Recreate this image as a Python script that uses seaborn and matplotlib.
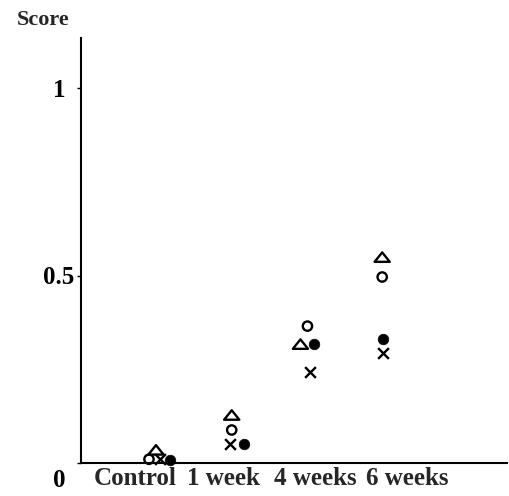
import numpy as np
import pandas as pd
import seaborn as sns
import matplotlib
matplotlib.use("Agg")
import matplotlib.pyplot as plt
import matplotlib.transforms as mtransforms
from matplotlib.path import Path

# ---- data ----
categories = ["Control", "1 week", "4 weeks", "6 weeks"]
triangle_open = [0.035, 0.128, 0.317, 0.549]
circle_open = [0.010, 0.088, 0.365, 0.496]
cross = [0.010, 0.051, 0.243, 0.293]
circle_filled = [0.008, 0.051, 0.317, 0.331]
y_ticks = [0, 0.5, 1]
y_tick_labels = ["0", "0.5", "1"]

# ---- layout (pixel nudges keeping overlapping markers apart) ----
nudge_px = {
    "triangle": [-2, -1, -7, 0],
    "circle": [-9, -1, 0, 0],
    "cross": [2, -3, 3, 1],
    "filled": [12, 11, 7, 1],
}
label_dx_px = [-23, -9, 8, 25]

sns.set_theme(style="white")
plt.rcParams["font.family"] = ["Liberation Serif", "DejaVu Serif"]

W, H, DPI = 509, 496, 100
fig = plt.figure(figsize=(W / DPI, H / DPI), dpi=DPI)
ax_left, ax_right, ax_bottom, ax_top = 81, 507, 463, 38
ax = fig.add_axes([ax_left / W, (H - ax_bottom) / H,
                   (ax_right - ax_left) / W, (ax_bottom - ax_top) / H])

x_lo, x_hi = -1.03, 4.67
px_per_unit = (ax_right - ax_left) / (x_hi - x_lo)

tri_marker = Path([(-1, -0.62), (1, -0.62), (0, 0.62), (-1, -0.62)],
                  [Path.MOVETO, Path.LINETO, Path.LINETO, Path.CLOSEPOLY])

series = [
    ("triangle", triangle_open, dict(marker=tri_marker, s=120, facecolors="none",
                                     edgecolor="black", linewidth=1.7)),
    ("circle", circle_open, dict(marker="o", s=45, facecolors="none",
                                 edgecolor="black", linewidth=1.7)),
    ("cross", cross, dict(marker="x", s=60, color="black", linewidth=1.7)),
    ("filled", circle_filled, dict(marker="o", s=58, color="black",
                                   edgecolor="black", linewidth=0.5)),
]

for name, vals, kw in series:
    xs = np.arange(len(categories)) + np.array(nudge_px[name]) / px_per_unit
    df = pd.DataFrame({"x": xs, "score": vals})
    sns.scatterplot(data=df, x="x", y="score", ax=ax, legend=False,
                    clip_on=False, zorder=3, **kw)

ax.set_xlim(x_lo, x_hi)
ax.set_ylim(0, (ax_bottom - ax_top) / 375)
ax.set_xlabel("")
ax.set_ylabel("")

for s in ["top", "right"]:
    ax.spines[s].set_visible(False)
for s in ["left", "bottom"]:
    ax.spines[s].set_color("black")
    ax.spines[s].set_linewidth(1.5)

ax.set_xticks(range(len(categories)))
ax.set_xticklabels(categories, fontsize=18, fontweight="bold")
ax.tick_params(axis="x", bottom=False, length=0, pad=3)
for lbl, dx in zip(ax.get_xticklabels(), label_dx_px):
    lbl.set_transform(lbl.get_transform() +
                      mtransforms.ScaledTranslation(dx / DPI, 0, fig.dpi_scale_trans))

ax.set_yticks(y_ticks)
ax.set_yticklabels(y_tick_labels, fontsize=18, fontweight="bold")
ax.tick_params(axis="y", left=True, length=3, width=1, direction="out",
               pad=13, colors="black")
for lbl in ax.get_yticklabels():
    lbl.set_horizontalalignment("center")
ylbls = ax.get_yticklabels()
ylbls[0].set_transform(ylbls[0].get_transform() +
                       mtransforms.ScaledTranslation(0, -15 / DPI, fig.dpi_scale_trans))

fig.text(43 / W, 1 - 20 / H, "Score", ha="center", va="center",
         fontsize=16, fontweight="bold")

fig.savefig("out.png", dpi=DPI, facecolor="white")
